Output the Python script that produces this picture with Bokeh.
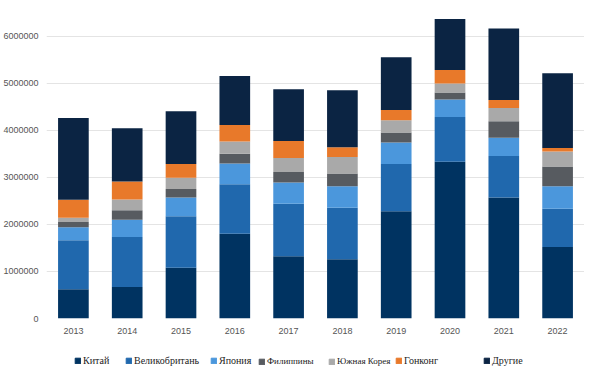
from bokeh.plotting import figure
from bokeh.layouts import column
from bokeh.models import Legend, LegendItem, BasicTickFormatter, FactorRange, Range1d, ColumnDataSource
from bokeh.embed import file_html
from bokeh.resources import INLINE

years = ["2013", "2014", "2015", "2016", "2017", "2018", "2019", "2020", "2021", "2022"]
china = [620000, 670000, 1080000, 1800000, 1320000, 1260000, 2280000, 3330000, 2570000, 1520000]
uk = [1040000, 1060000, 1090000, 1050000, 1120000, 1090000, 1000000, 950000, 880000, 810000]
japan = [280000, 370000, 400000, 440000, 450000, 460000, 460000, 370000, 390000, 480000]
philippines = [110000, 200000, 180000, 210000, 220000, 270000, 210000, 150000, 350000, 420000]
korea = [90000, 230000, 240000, 260000, 300000, 350000, 260000, 190000, 280000, 320000]
hongkong = [380000, 380000, 290000, 350000, 360000, 210000, 220000, 290000, 170000, 70000]
others = [1740000, 1130000, 1120000, 1040000, 1100000, 1210000, 1120000, 1080000, 1520000, 1590000]

series_keys = ["china", "uk", "japan", "philippines", "korea", "hongkong", "others"]
series_labels = ["Китай", "Великобритань", "Япония", "Филиппины", "Южная Корея", "Гонконг", "Другие"]
colors = ["#003361", "#2068ad", "#4b97dc", "#575b60", "#a9a9a9", "#e8792a", "#0b2443"]
# legend item offsets, relative to the (aligned) plot frame left edge
legend_x = [28, 79, 164, 212, 282, 349, 437]
legend_font = ["10px", "10px", "10px", "9px", "9px", "10px", "10px"]

source = ColumnDataSource(dict(years=years, china=china, uk=uk, japan=japan,
                               philippines=philippines, korea=korea,
                               hongkong=hongkong, others=others))

p = figure(width=584, height=336, x_range=FactorRange(*years), y_range=Range1d(0, 6500000),
           output_backend="svg", toolbar_location=None,
           min_border_left=5, min_border_right=0, min_border_top=12, min_border_bottom=18)

renderers = p.vbar_stack(series_keys, x="years", width=0.57, color=colors, source=source,
                         line_color=None)

p.outline_line_color = None
p.xgrid.grid_line_color = None
p.ygrid.grid_line_color = "#e4e4e4"
p.ygrid.grid_line_width = 1

for ax in (p.xaxis, p.yaxis):
    ax.axis_line_color = None
    ax.major_tick_line_color = None
    ax.minor_tick_line_color = None
    ax.major_label_text_color = "#555555"
    ax.major_label_text_font = "Liberation Sans"
    ax.major_label_text_font_size = "9px"

p.yaxis.formatter = BasicTickFormatter(use_scientific=False)
p.yaxis.ticker = [0, 1000000, 2000000, 3000000, 4000000, 5000000, 6000000]
p.yaxis.major_label_standoff = 2
p.xaxis.major_label_standoff = 3

# legend strip
p2 = figure(width=584, height=32, x_range=Range1d(0, 1), y_range=Range1d(0, 1),
            x_axis_type=None, y_axis_type=None,
            output_backend="svg", toolbar_location=None,
            min_border_left=0, min_border_right=0, min_border_top=0, min_border_bottom=0)
p2.grid.visible = False
p2.outline_line_color = None

for lab, col, lx, fs in zip(series_labels, colors, legend_x, legend_font):
    r = p2.rect(x=[-10], y=[-10], width=0.1, height=0.1, color=col)
    lg = Legend(items=[LegendItem(label=lab, renderers=[r])], location=(lx, 2),
                label_text_font="Liberation Serif", label_text_font_size=fs,
                label_text_color="#222222", glyph_width=7, glyph_height=7,
                label_height=10, label_standoff=2, padding=2, margin=0,
                border_line_color=None, background_fill_alpha=0)
    p2.add_layout(lg, "center")

layout = column(p, p2, spacing=0)
open("out.html", "w").write(file_html(layout, INLINE))
